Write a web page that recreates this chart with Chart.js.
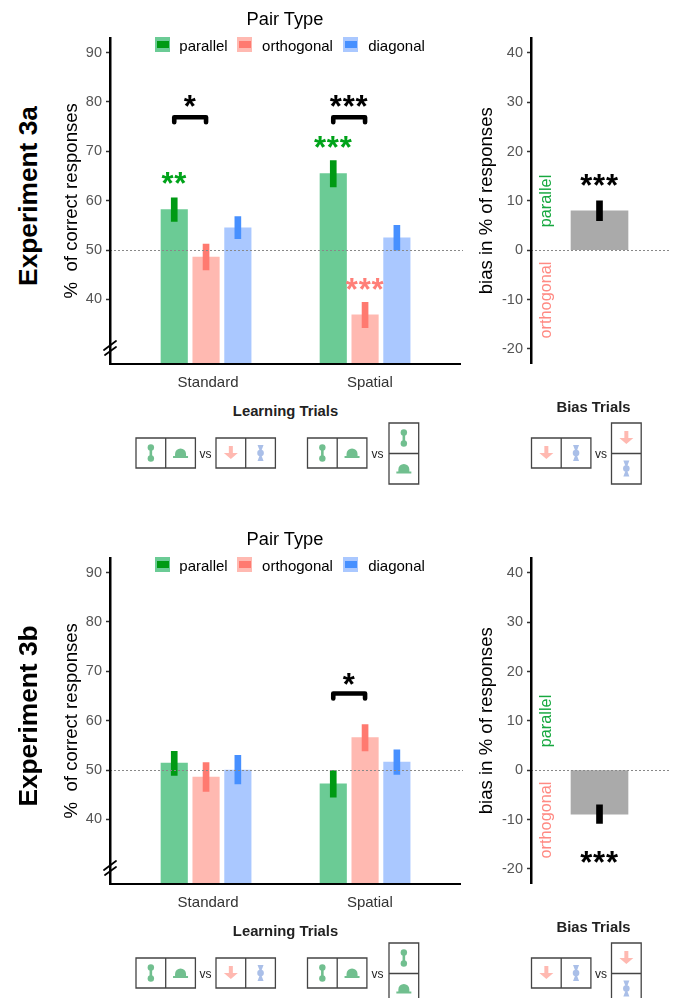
<!DOCTYPE html>
<html>
<head>
<meta charset="utf-8">
<script src="https://cdn.jsdelivr.net/npm/chart.js@4"></script>
<style>
html, body { margin: 0; padding: 0; background: #fff; }
body { position: relative; width: 676px; height: 998px; overflow: hidden; font-family: "Liberation Sans", Arial, sans-serif; }
canvas { position: absolute; }
.txt { position: absolute; white-space: pre; transform: translate(-50%, -50%); line-height: 1; }
svg { position: absolute; left: 0; top: 0; }
</style>
</head>
<body>
<script>
const categories = ["Standard", "Spatial"];
const pairTypes = ["parallel", "orthogonal", "diagonal"];
const accuracyTicks = [40, 50, 60, 70, 80, 90];
const biasTicks = [-20, -10, 0, 10, 20, 30, 40];

// experiment 3a
const parallel3a = [58.2, 65.5];
const orthogonal3a = [48.6, 36.9];
const diagonal3a = [54.5, 52.5];
const parallelErr3a = [[55.8, 60.6], [62.8, 68.1]];
const orthogonalErr3a = [[46.0, 51.2], [34.3, 39.4]];
const diagonalErr3a = [[52.3, 56.8], [50.0, 55.0]];
const bias3a = [8];
const biasErr3a = [[6, 10]];

// experiment 3b
const parallel3b = [51.4, 47.2];
const orthogonal3b = [48.6, 56.6];
const diagonal3b = [50.0, 51.6];
const parallelErr3b = [[48.9, 53.8], [44.5, 49.9]];
const orthogonalErr3b = [[45.7, 51.5], [53.9, 59.2]];
const diagonalErr3b = [[47.2, 53.0], [49.1, 54.1]];
const bias3b = [-8.9];
const biasErr3b = [[-10.8, -7]];

const barColors = ["#6bcb95", "#ffb9b1", "#aac8ff"];
const errColors = ["#009a14", "#ff7a70", "#4790ff"];
const iconColors = ["#71bf8f", "#ffb9b1", "#aabfe8"];
const groupOffset = 0.2;
const FONT = '"Liberation Sans", Arial, sans-serif';

function addText(text, x, y, size, opts = {}) {
    const el = document.createElement("div");
    el.className = "txt";
    el.textContent = text;
    el.style.left = x + "px";
    el.style.top = y + "px";
    el.style.fontSize = size + "px";
    el.style.color = opts.color || "#000";
    if (opts.bold) el.style.fontWeight = "bold";
    if (opts.rotate) el.style.transform = "translate(-50%, -50%) rotate(-90deg)";
    document.body.appendChild(el);
}

function addBox(x, y, w, h, color) {
    const el = document.createElement("div");
    el.style.cssText = `position:absolute;left:${x}px;top:${y}px;width:${w}px;height:${h}px;background:${color}`;
    document.body.appendChild(el);
    return el;
}

// stars and brackets are placed in scale units
const annotate = {
    id: "annotate",
    afterDatasetsDraw(chart, args, opts) {
        const { ctx, scales, chartArea } = chart;
        const y = scales.y, x = scales.x;
        ctx.save();
        if (opts.refLine !== undefined) {
            ctx.strokeStyle = "#888";
            ctx.lineWidth = 1;
            ctx.setLineDash([2, 2]);
            ctx.beginPath();
            const py = Math.round(y.getPixelForValue(opts.refLine)) + 0.5;
            ctx.moveTo(chartArea.left, py);
            ctx.lineTo(chartArea.right + 3, py);
            ctx.stroke();
            ctx.setLineDash([]);
        }
        (opts.brackets || []).forEach((b) => {
            const x1 = x.getPixelForValue(b.from), x2 = x.getPixelForValue(b.to);
            const py = y.getPixelForValue(b.y);
            ctx.strokeStyle = "#000";
            ctx.lineWidth = 4.6;
            ctx.lineJoin = "round";
            ctx.lineCap = "round";
            ctx.beginPath();
            ctx.moveTo(x1, py + 5);
            ctx.lineTo(x1, py);
            ctx.lineTo(x2, py);
            ctx.lineTo(x2, py + 5);
            ctx.stroke();
        });
        (opts.stars || []).forEach((s) => {
            ctx.font = "bold 31px " + FONT;
            ctx.letterSpacing = "0.8px";
            ctx.fillStyle = s.color || "#000";
            ctx.textAlign = "center";
            ctx.textBaseline = "alphabetic";
            ctx.fillText(s.text, x.getPixelForValue(s.x), y.getPixelForValue(s.y) + 15);
        });
        if (opts.axisBreak) {
            // break mark on the y axis, near the bottom
            const l = chartArea.left, b = chartArea.bottom;
            ctx.fillStyle = "#fff";
            ctx.fillRect(l - 3, b - 19, 6, 6);
            ctx.strokeStyle = "#000";
            ctx.lineWidth = 1.8;
            ctx.beginPath();
            ctx.moveTo(l - 6, b - 13.5);
            ctx.lineTo(l + 6, b - 22.5);
            ctx.moveTo(l - 5, b - 8.5);
            ctx.lineTo(l + 6, b - 16.5);
            ctx.stroke();
        }
        ctx.restore();
    }
};

function tickStyle() {
    return { color: "#555", font: { family: FONT, size: 14.5 }, padding: 4 };
}

function drawAccuracy(top, series, errs, opts) {
    const canvas = document.createElement("canvas");
    canvas.width = 470;
    canvas.height = 380;
    canvas.style.left = "0px";
    canvas.style.top = top + 20 + "px";
    document.body.appendChild(canvas);

    const datasets = [];
    series.forEach((values, s) => {
        datasets.push({
            label: pairTypes[s],
            data: values.map((v, i) => ({ x: i + (s - 1) * groupOffset, y: v })),
            backgroundColor: barColors[s],
            barThickness: 26.5,
            order: 2
        });
    });
    errs.forEach((values, s) => {
        datasets.push({
            label: pairTypes[s] + " error",
            data: values.map((v, i) => ({ x: i + (s - 1) * groupOffset, y: v })),
            backgroundColor: errColors[s],
            barThickness: 6,
            order: 1
        });
    });

    new Chart(canvas, {
        type: "bar",
        data: { datasets },
        options: {
            responsive: false,
            maintainAspectRatio: false,
            animation: false,
            layout: { autoPadding: false, padding: { top: 18, right: 10 } },
            datasets: { bar: { grouped: false } },
            scales: {
                x: {
                    type: "linear",
                    offset: false,
                    min: -0.604,
                    max: 1.597,
                    afterBuildTicks: (axis) => { axis.ticks = [{ value: 0.0126 }, { value: 1.03 }]; },
                    afterFit: (axis) => { axis.height = 36.5; },
                    grid: { display: false, offset: false },
                    border: { color: "#000", width: 2, z: 1 },
                    ticks: {
                        color: "#333",
                        font: { family: FONT, size: 15 },
                        padding: 2,
                        maxRotation: 0,
                        autoSkip: false,
                        callback: (v, i) => categories[i]
                    }
                },
                y: {
                    min: 27.04,
                    max: 92.94,
                    afterBuildTicks: (axis) => { axis.ticks = accuracyTicks.map((v) => ({ value: v })); },
                    afterFit: (axis) => { axis.width = 110; },
                    grid: { drawOnChartArea: false, tickLength: 4, color: "#333", tickWidth: 1.5 },
                    border: { color: "#000", width: 2.5, z: 1 },
                    ticks: tickStyle(),
                    title: {
                        display: true,
                        text: "%  of correct responses",
                        color: "#000",
                        font: { family: FONT, size: 18.6 },
                        padding: { top: 61, bottom: 0 }
                    }
                }
            },
            plugins: {
                legend: { display: false },
                tooltip: { enabled: false },
                annotate: { refLine: 50, axisBreak: true, stars: opts.stars, brackets: opts.brackets }
            }
        },
        plugins: [annotate]
    });
}

function drawBias(top, values, errs, opts) {
    const canvas = document.createElement("canvas");
    canvas.width = 206;
    canvas.height = 380;
    canvas.style.left = "470px";
    canvas.style.top = top + 20 + "px";
    document.body.appendChild(canvas);

    new Chart(canvas, {
        type: "bar",
        data: {
            labels: ["bias"],
            datasets: [
                { label: "bias", data: values, backgroundColor: "#aaaaaa", barThickness: 57, order: 2 },
                { label: "error", data: errs, backgroundColor: "#000", barThickness: 6, order: 1 }
            ]
        },
        options: {
            responsive: false,
            maintainAspectRatio: false,
            animation: false,
            layout: { autoPadding: false, padding: { top: 18, right: 8 } },
            datasets: { bar: { grouped: false } },
            scales: {
                x: {
                    afterFit: (axis) => { axis.height = 36.5; },
                    grid: { display: false },
                    border: { display: false },
                    ticks: { display: false }
                },
                y: {
                    min: -22.98,
                    max: 43.04,
                    afterBuildTicks: (axis) => { axis.ticks = biasTicks.map((v) => ({ value: v })); },
                    afterFit: (axis) => { axis.width = 61; },
                    grid: { drawOnChartArea: false, tickLength: 4, color: "#333", tickWidth: 1.5 },
                    border: { color: "#000", width: 2.5, z: 1 },
                    ticks: tickStyle(),
                    title: {
                        display: true,
                        text: "bias in % of responses",
                        color: "#000",
                        font: { family: FONT, size: 18.6 },
                        padding: { top: 6, bottom: 0 }
                    }
                }
            },
            plugins: {
                legend: { display: false },
                tooltip: { enabled: false },
                annotate: { refLine: 0, stars: opts.stars }
            }
        },
        plugins: [annotate]
    });
}

function drawLegend(top) {
    addText("Pair Type", 285, top + 19, 18.3);
    const keys = [155, 237, 343];
    const labels = [203.5, 297.5, 396.5];
    pairTypes.forEach((name, s) => {
        addBox(keys[s], top + 37, 15, 15, barColors[s]);
        addBox(keys[s] + 1.5, top + 40.5, 12, 7, errColors[s]);
        addText(name, labels[s], top + 45, 15);
    });
}

// little stimulus drawings
function iconSvg(kind, cx, cy) {
    const g = iconColors;
    if (kind === "bone") {
        return `<g fill="${g[0]}" stroke="${g[0]}"><path d="M${cx} ${cy - 6}V${cy + 6}" stroke-width="2.6"/><circle cx="${cx}" cy="${cy - 5.5}" r="3.2" stroke="none"/><circle cx="${cx}" cy="${cy + 5.5}" r="3.2" stroke="none"/></g>`;
    }
    if (kind === "hat") {
        return `<path d="M${cx - 7.5} ${cy + 5}H${cx + 7.5}V${cy + 3}H${cx + 5.5}V${cy + 1}A5.5 5.5 0 0 0 ${cx - 5.5} ${cy + 1}V${cy + 3}H${cx - 7.5}Z" fill="${g[0]}"/>`;
    }
    if (kind === "arrow") {
        return `<path d="M${cx - 2} ${cy - 7}H${cx + 2}V${cy}H${cx + 7}L${cx} ${cy + 6}L${cx - 7} ${cy}H${cx - 2}Z" fill="${g[1]}"/>`;
    }
    return `<g fill="${g[2]}"><path d="M${cx - 3} ${cy - 8}H${cx + 3}L${cx} ${cy}L${cx + 3} ${cy + 8}H${cx - 3}L${cx} ${cy}Z"/><circle cx="${cx}" cy="${cy}" r="3.3"/></g>`;
}

function rowCells(x, y, kinds) {
    const w = 29.7;
    let out = `<path d="M${x} ${y}h${w * 2}v30h${-w * 2}zM${x + w} ${y}v30" fill="none" stroke="#444" stroke-width="1.3"/>`;
    kinds.forEach((k, i) => { out += iconSvg(k, x + w * i + w / 2, y + 15); });
    return out;
}

function colCells(x, y, kinds) {
    const w = 29.7;
    let out = `<path d="M${x} ${y}h${w}v61h${-w}zM${x} ${y + 30.5}h${w}" fill="none" stroke="#444" stroke-width="1.3"/>`;
    kinds.forEach((k, i) => { out += iconSvg(k, x + w / 2, y + 15 + i * 30.5); });
    return out;
}

function drawTrials(top) {
    addText("Learning Trials", 285.5, top + 410.5, 14.8, { bold: true, color: "#222" });
    addText("Bias Trials", 593.5, top + 406.5, 14.8, { bold: true, color: "#222" });
    const y = top + 438, yc = top + 423;
    let inner = rowCells(136, y, ["bone", "hat"]);
    inner += rowCells(216, y, ["arrow", "hourglass"]);
    inner += rowCells(307.5, y, ["bone", "hat"]);
    inner += colCells(389, yc, ["bone", "hat"]);
    inner += rowCells(531.5, y, ["arrow", "hourglass"]);
    inner += colCells(611.5, yc, ["arrow", "hourglass"]);
    const svg = document.createElementNS("http://www.w3.org/2000/svg", "svg");
    svg.setAttribute("width", 676);
    svg.setAttribute("height", 998);
    svg.innerHTML = inner;
    document.body.appendChild(svg);
    addText("vs", 205.5, top + 454, 12, { color: "#222" });
    addText("vs", 377.5, top + 454, 12, { color: "#222" });
    addText("vs", 601, top + 454, 12, { color: "#222" });
}

function drawExperiment(top, name, series, errs, bias, biasErr, accOpts, biasOpts) {
    addText(name, 28, top + 196, 26.3, { bold: true, rotate: true });
    drawAccuracy(top, series, errs, accOpts);
    drawBias(top, bias, biasErr, biasOpts);
    drawLegend(top);
    addText("parallel", 545, top + 200.5, 16.3, { color: "#16a83f", rotate: true });
    addText("orthogonal", 545, top + 300, 16.3, { color: "#ff8a83", rotate: true });
    drawTrials(top);
}

drawExperiment(0, "Experiment 3a",
    [parallel3a, orthogonal3a, diagonal3a],
    [parallelErr3a, orthogonalErr3a, diagonalErr3a],
    bias3a, biasErr3a,
    {
        stars: [
            { text: "**", x: -0.2, y: 64.4, color: "#00a31a" },
            { text: "***", x: 0.8, y: 71.7, color: "#00a31a" },
            { text: "***", x: 1, y: 42.9, color: "#ff7f78" },
            { text: "*", x: -0.1, y: 80 },
            { text: "***", x: 0.9, y: 80 }
        ],
        brackets: [
            { from: -0.2, to: 0, y: 76.9 },
            { from: 0.8, to: 1, y: 76.9 }
        ]
    },
    { stars: [{ text: "***", x: 0, y: 14 }] }
);

drawExperiment(520, "Experiment 3b",
    [parallel3b, orthogonal3b, diagonal3b],
    [parallelErr3b, orthogonalErr3b, diagonalErr3b],
    bias3b, biasErr3b,
    {
        stars: [{ text: "*", x: 0.9, y: 68.2 }],
        brackets: [{ from: 0.8, to: 1, y: 65.5 }]
    },
    { stars: [{ text: "***", x: 0, y: -17.9 }] }
);
</script>
</body>
</html>
